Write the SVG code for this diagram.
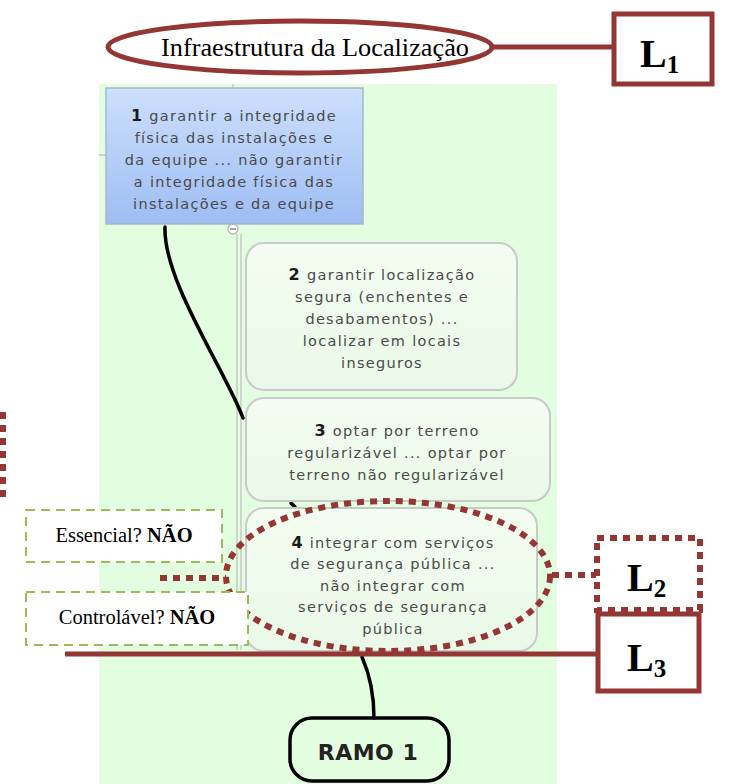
<svg xmlns="http://www.w3.org/2000/svg" width="731" height="784" viewBox="0 0 731 784">
  <defs>
    <linearGradient id="blueFill" x1="0" y1="0" x2="0" y2="1">
      <stop offset="0" stop-color="#cde0fc"/>
      <stop offset="1" stop-color="#9ebdf4"/>
    </linearGradient>
    <linearGradient id="paleFill" x1="0" y1="0" x2="0" y2="1">
      <stop offset="0" stop-color="#f3fdf1"/>
      <stop offset="1" stop-color="#eaf9e7"/>
    </linearGradient>
    <style>
      .map { font-family: "DejaVu Sans", Verdana, sans-serif; font-size: 14.5px; fill: #4a4a4a; text-anchor: middle; letter-spacing: 1.3px; }
      .num { font-weight: bold; fill: #1a1a1a; font-size: 16px; }
      .topic { fill: url(#paleFill); stroke: #c9c9c9; stroke-width: 2; }
      .brown { stroke: #943634; fill: none; stroke-width: 5; }
      .dots { stroke: #943634; fill: none; stroke-width: 6; stroke-dasharray: 7 6; }
      .serif { font-family: "Liberation Serif", "Times New Roman", serif; fill: #000; }
      .lab { font-family: "Liberation Serif", "Times New Roman", serif; font-weight: bold; font-size: 40px; fill: #000; }
      .sub { font-size: 25px; }
      .flag { fill: #fff; stroke: #9bbb59; stroke-width: 2; stroke-dasharray: 9 6; }
      .flagtxt { font-family: "Liberation Serif", "Times New Roman", serif; font-size: 20.5px; text-anchor: middle; fill: #000; }
      .branch { stroke: #000; stroke-width: 3.5; fill: none; stroke-linecap: round; }
    </style>
  </defs>

  <!-- mind map canvas -->
  <rect x="99" y="84" width="458" height="700" fill="#e2fde0"/>

  <!-- outline spine and branch lines -->
  <g id="connectors">
    <line x1="233" y1="84" x2="233" y2="90" stroke="#aaa" stroke-width="1"/>
    <line x1="99" y1="155" x2="106" y2="155" stroke="#aaa" stroke-width="1"/>
    <line x1="237" y1="234" x2="237" y2="650" stroke="#c8c8c8" stroke-width="1.5"/>
    <line x1="241" y1="234" x2="241" y2="650" stroke="#c8c8c8" stroke-width="1.5"/>
    <path class="branch" d="M165 227 C163 280 225 370 243 418"/>
    <path class="branch" d="M291 503 L295 507"/>
    <path class="branch" d="M362 657 C370 675 374 695 374 718"/>
    <circle cx="233" cy="229" r="5" fill="#fff" stroke="#bbb" stroke-width="1.5"/>
    <line x1="230" y1="229" x2="236" y2="229" stroke="#888" stroke-width="1.5"/>
  </g>

  <!-- topic 1 -->
  <g id="node1">
    <rect x="106" y="88" width="257" height="136" fill="url(#blueFill)" stroke="#a9b6c9" stroke-width="1.5"/>
    <text class="map" x="234" y="121"><tspan class="num">1</tspan> garantir a integridade</text>
    <text class="map" x="234" y="143">física das instalações e</text>
    <text class="map" x="234" y="165">da equipe ... não garantir</text>
    <text class="map" x="234" y="187">a integridade física das</text>
    <text class="map" x="234" y="209">instalações e da equipe</text>
  </g>

  <!-- topic 2 -->
  <g id="node2">
    <rect class="topic" x="246" y="243" width="271" height="147" rx="18"/>
    <text class="map" x="382" y="280"><tspan class="num">2</tspan> garantir localização</text>
    <text class="map" x="382" y="302">segura (enchentes e</text>
    <text class="map" x="382" y="324">desabamentos) ...</text>
    <text class="map" x="382" y="346">localizar em locais</text>
    <text class="map" x="382" y="368">inseguros</text>
  </g>

  <!-- topic 3 -->
  <g id="node3">
    <rect class="topic" x="246" y="398" width="304" height="103" rx="18"/>
    <text class="map" x="397" y="436"><tspan class="num">3</tspan> optar por terreno</text>
    <text class="map" x="397" y="458">regularizável ... optar por</text>
    <text class="map" x="397" y="480">terreno não regularizável</text>
  </g>

  <!-- topic 4 -->
  <g id="node4">
    <rect class="topic" x="246" y="508" width="291" height="143" rx="18"/>
    <text class="map" x="393" y="548"><tspan class="num">4</tspan> integrar com serviços</text>
    <text class="map" x="393" y="569">de segurança pública ...</text>
    <text class="map" x="393" y="591">não integrar com</text>
    <text class="map" x="393" y="612">serviços de segurança</text>
    <text class="map" x="393" y="634">pública</text>
  </g>

  <!-- branch root -->
  <g id="ramo1">
    <rect x="290" y="718" width="159" height="63" rx="22" fill="none" stroke="#000" stroke-width="3.5"/>
    <text x="368" y="760" font-family="'DejaVu Sans', Verdana, sans-serif" font-weight="bold" font-size="22" letter-spacing="0.5" fill="#222" text-anchor="middle">RAMO 1</text>
  </g>

  <!-- level annotations -->
  <g id="title">
    <ellipse class="brown" cx="300" cy="47" rx="192" ry="26"/>
    <text class="serif" x="315" y="56" font-size="25" text-anchor="middle" textLength="308" lengthAdjust="spacingAndGlyphs">Infraestrutura da Localização</text>
  </g>
  <g id="L1">
    <line class="brown" x1="492" y1="47" x2="614" y2="47"/>
    <rect class="brown" x="614" y="14" width="98" height="70"/>
    <text class="lab" x="640" y="67">L<tspan class="sub" dy="6">1</tspan></text>
  </g>

  <g id="focus4">
    <ellipse class="dots" cx="388" cy="576" rx="162" ry="75"/>
    <line class="dots" x1="160" y1="578" x2="226" y2="578"/>
    <line class="dots" x1="552" y1="575" x2="596" y2="575"/>
  </g>
  <g id="L2">
    <rect class="dots" x="597" y="538" width="103" height="72"/>
    <text class="lab" x="627" y="591">L<tspan class="sub" dy="6">2</tspan></text>
  </g>
  <g id="L3">
    <line class="brown" x1="65" y1="654" x2="598" y2="654"/>
    <rect class="brown" x="598" y="614" width="101" height="77"/>
    <text class="lab" x="627" y="671">L<tspan class="sub" dy="6">3</tspan></text>
  </g>
  <line class="dots" x1="3" y1="412" x2="3" y2="498"/>

  <g id="essencial">
    <rect class="flag" x="26" y="510" width="196" height="52"/>
    <text class="flagtxt" x="124" y="542">Essencial? <tspan font-weight="bold">NÃO</tspan></text>
  </g>
  <g id="controlavel">
    <rect class="flag" x="26" y="592" width="222" height="53"/>
    <text class="flagtxt" x="137" y="624">Controlável? <tspan font-weight="bold">NÃO</tspan></text>
  </g>
</svg>
